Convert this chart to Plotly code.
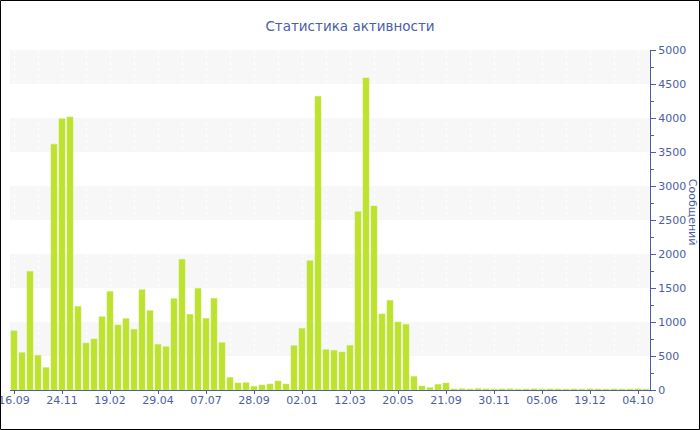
import plotly.graph_objects as go

# message counts per period
counts = [
    870, 550, 1745, 510, 330, 3615, 3990, 4015, 1230, 690,
    750, 1078, 1450, 956, 1050, 892, 1475, 1167, 672, 637,
    1343, 1922, 1113, 1495, 1054, 1348, 696, 186, 103, 108,
    54, 74, 88, 132, 88, 652, 907, 1902, 4320, 593,
    583, 559, 657, 2623, 4590, 2706, 1118, 1319, 1000, 966,
    200, 59, 34, 83, 103, 15, 18, 14, 20, 16,
    13, 15, 17, 12, 14, 16, 13, 15, 14, 12,
    15, 13, 16, 14, 12, 15, 13, 14, 16, 12,
]
tick_pos = [0, 6, 12, 18, 24, 30, 36, 42, 48, 54, 60, 66, 72, 78]
tick_labels = ["16.09", "24.11", "19.02", "29.04", "07.07", "28.09", "02.01",
               "12.03", "20.05", "21.09", "30.11", "05.06", "19.12", "04.10"]
band_starts = [500, 1500, 2500, 3500, 4500]

axis_col = "#4d5ea5"
bar_col = "#bde230"

fig = go.Figure()
fig.add_trace(go.Bar(
    x=list(range(len(counts))),
    y=counts,
    marker=dict(color=bar_col, line=dict(color="#c8e85a", width=0.5)),
    width=0.76,
    hoverinfo="y",
))

shapes = [
    dict(type="rect", xref="paper", yref="y", x0=0, x1=1, y0=b, y1=b + 500,
         fillcolor="#f7f7f7", line=dict(width=0), layer="below")
    for b in band_starts
]
# frame round the whole picture
shapes.append(dict(type="rect", xref="paper", yref="paper",
                   x0=-9.5 / 640, x1=1 + 49.5 / 640,
                   y0=-39.5 / 340, y1=1 + 49.5 / 340,
                   line=dict(color="black", width=1)))

fig.update_layout(
    width=700,
    height=430,
    margin=dict(l=10, r=50, t=50, b=40, autoexpand=False),
    paper_bgcolor="white",
    plot_bgcolor="white",
    font=dict(family="DejaVu Sans, Verdana, sans-serif", size=11, color=axis_col),
    title=dict(text="Статистика активности", x=0.5, xref="container", xanchor="center",
               y=0.94, yref="container", yanchor="middle",
               font=dict(size=13.5, color=axis_col)),
    showlegend=False,
    shapes=shapes,
    bargap=0.24,
    xaxis=dict(
        range=[-0.5, len(counts) - 0.5],
        tickmode="array", tickvals=tick_pos, ticktext=tick_labels,
        showgrid=False, zeroline=False, automargin=False,
        ticklabeloverflow="allow", ticklabelstandoff=-3,
        showline=True, linecolor=axis_col, linewidth=1,
        ticks="outside", ticklen=3, tickcolor=axis_col,
        minor=dict(tickmode="linear", tick0=0, dtick=3, showgrid=True,
                   gridcolor="white", griddash="dot", gridwidth=1, ticks=""),
        fixedrange=True,
    ),
    yaxis=dict(
        side="right",
        range=[0, 5000], dtick=500,
        showgrid=False, zeroline=False, automargin=False,
        showline=True, linecolor=axis_col, linewidth=1,
        ticks="outside", ticklen=5, tickcolor=axis_col,
        minor=dict(dtick=250, ticks="outside", ticklen=3, tickcolor=axis_col, showgrid=False),
        fixedrange=True,
    ),
    annotations=[dict(text="Сообщений", textangle=90, xref="paper", yref="paper",
                      x=1 + 42 / 640, y=0.524, xanchor="center", yanchor="middle",
                      showarrow=False, font=dict(size=11, color=axis_col))],
)

# drop the page's default body margin so the chart sits at the window's corner
fig.write_html("out.html", config={"displayModeBar": False},
               post_script="document.body.style.margin='0';")
